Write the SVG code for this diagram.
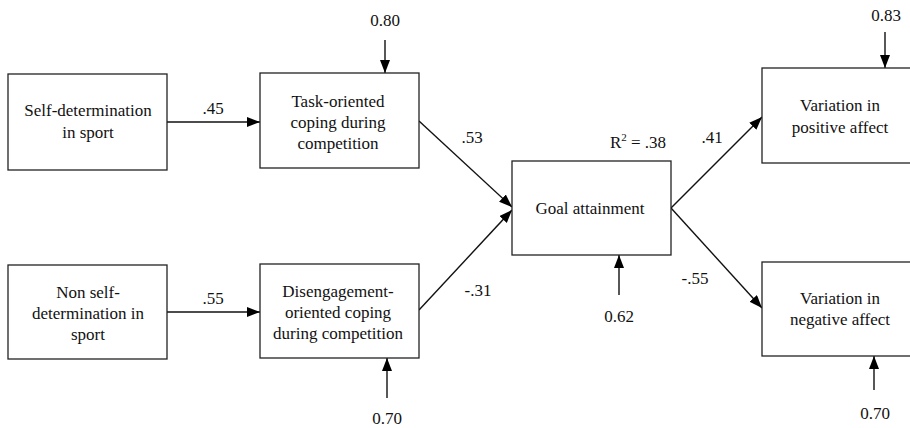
<svg xmlns="http://www.w3.org/2000/svg" width="910" height="428" viewBox="0 0 910 428">
<defs>
<marker id="ah" markerUnits="userSpaceOnUse" markerWidth="14" markerHeight="12" refX="13" refY="5" orient="auto">
<path d="M0,0 L13,5 L0,10 Z" fill="#000"/>
</marker>
</defs>
<style>
rect{fill:#fff;stroke:#222;stroke-width:1.3}
text{font-family:"Times New Roman",Tinos,"Liberation Serif","Noto Serif","DejaVu Serif",FreeSerif,serif;font-size:17px;fill:#111;text-anchor:middle}
.c line{stroke:#111;stroke-width:1.4;marker-end:url(#ah)}
</style>
<rect x="0" y="0" width="910" height="428" style="fill:#fff;stroke:none"/>
<g class="c" id="connectors">
<line x1="167" y1="122" x2="260" y2="122"/>
<line x1="167" y1="312" x2="260" y2="312"/>
<line x1="419" y1="121" x2="512" y2="207"/>
<line x1="419" y1="310" x2="512" y2="210"/>
<line x1="671" y1="208" x2="762" y2="117"/>
<line x1="671" y1="208" x2="762" y2="308"/>
<line x1="385" y1="40" x2="385" y2="73"/>
<line x1="387" y1="398" x2="387" y2="358"/>
<line x1="619" y1="295" x2="619" y2="255"/>
<line x1="885" y1="32" x2="885" y2="68"/>
<line x1="874" y1="390" x2="874" y2="356"/>
</g>
<g id="labels">
<text x="213" y="114">.45</text>
<text x="213" y="304">.55</text>
<text x="472" y="143">.53</text>
<text x="478" y="296">-.31</text>
<text x="712" y="143">.41</text>
<text x="695" y="284">-.55</text>
<text x="638" y="148">R<tspan font-size="11" dy="-7">2</tspan><tspan dy="7"> = .38</tspan></text>
<text x="385" y="26">0.80</text>
<text x="387" y="424">0.70</text>
<text x="619" y="322">0.62</text>
<text x="886" y="21">0.83</text>
<text x="875" y="419">0.70</text>
</g>
<g id="self-determination">
<rect x="8" y="74" width="159" height="96"/>
<text x="88" y="116">Self-determination</text>
<text x="88" y="138">in sport</text>
</g>
<g id="task-coping">
<rect x="260" y="73" width="159" height="95"/>
<text x="338" y="107">Task-oriented</text>
<text x="338" y="128">coping during</text>
<text x="338" y="149">competition</text>
</g>
<g id="non-self-determination">
<rect x="8" y="265" width="159" height="94"/>
<text x="88" y="298">Non self-</text>
<text x="88" y="319">determination in</text>
<text x="88" y="340">sport</text>
</g>
<g id="disengagement-coping">
<rect x="260" y="264" width="159" height="94"/>
<text x="338" y="297">Disengagement-</text>
<text x="338" y="318">oriented coping</text>
<text x="338" y="339">during competition</text>
</g>
<g id="goal-attainment">
<rect x="512" y="161" width="159" height="94"/>
<text x="590" y="214">Goal attainment</text>
</g>
<g id="positive-affect">
<rect x="762" y="68" width="160" height="95"/>
<text x="840" y="111">Variation in</text>
<text x="840" y="133">positive affect</text>
</g>
<g id="negative-affect">
<rect x="762" y="262" width="160" height="94"/>
<text x="840" y="304">Variation in</text>
<text x="840" y="325">negative affect</text>
</g>
</svg>
